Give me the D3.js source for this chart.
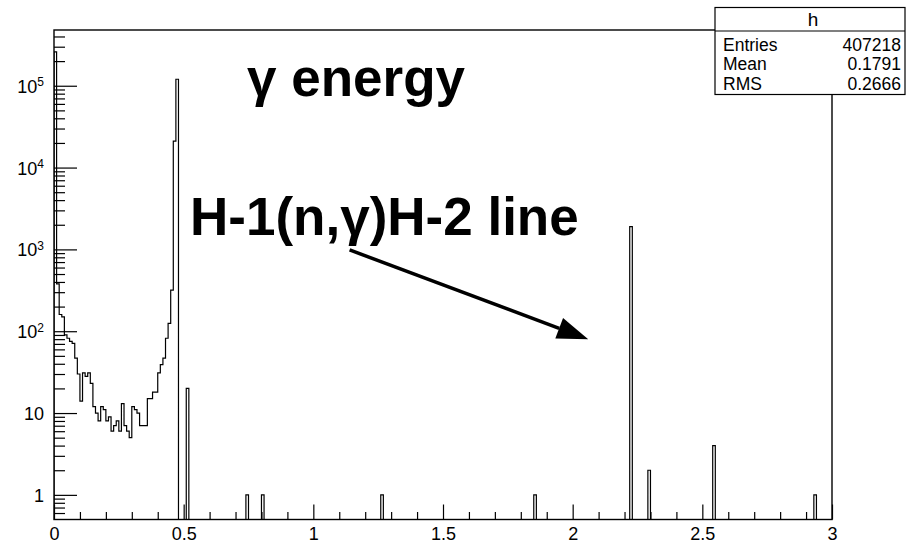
<!DOCTYPE html>
<html>
<head>
<meta charset="utf-8">
<script src="https://cdn.jsdelivr.net/npm/d3@7"></script>
<style>
  html, body { margin: 0; padding: 0; background: #fff; }
  svg { display: block; font-family: "Liberation Sans", Arial, Helvetica, sans-serif; }
</style>
</head>
<body>
<svg id="chart" width="906" height="544"></svg>
<script>
// ---------------- data ----------------
const binWidth = 0.01;
const xRange = [0, 3];
// counts of the first bins, starting at 0.00 (one value per 0.01 bin)
const lowEnergyCounts = [260000, 380, 160, 150, 90, 82, 75, 71, 47, 30,
  14, 31, 28, 31, 23, 12, 10, 8, 12, 11,
  8, 9, 6, 7, 8, 6, 13, 7, 6, 5,
  12, 11, 10, 7, 7, 7, 15, 15, 18, 18,
  31, 39, 47, 82, 125, 318, 21000, 120000];
// isolated lines (low edge of bin, counts)
const lineEnergies = [0.51, 0.74, 0.80, 1.26, 1.85, 2.22, 2.29, 2.54, 2.93];
const lineCounts   = [20, 1, 1, 1, 1, 1900, 2, 4, 1];
const xMajorTicks = [0, 0.5, 1, 1.5, 2, 2.5, 3];
const xTickLabels = ["0", "0.5", "1", "1.5", "2", "2.5", "3"];
const yMajorTicks = [1, 10, 100, 1000, 10000, 100000];
const yTickLabels = ["1", "10", "10^2", "10^3", "10^4", "10^5"];
const yDomain = [0.5, 4.8e5];
const statsNames  = ["Entries", "Mean", "RMS"];
const statsValues = ["407218", "0.1791", "0.2666"];
const titleText = "\u03b3 energy";
const lineLabel = "H-1(n,\u03b3)H-2 line";
// arrow in data coordinates [energy, counts]
const arrowFrom = [1.14, 985];
const arrowTo   = [2.06, 80];

// ---------------- layout ----------------
const frame = { left: 54, right: 832, top: 30, bottom: 519.5 };
const svg = d3.select("#chart");

const x = d3.scaleLinear().domain(xRange).range([frame.left, frame.right]);
const y = d3.scaleLog().domain(yDomain).range([frame.bottom, frame.top]);

// build bins
const nBins = Math.round((xRange[1] - xRange[0]) / binWidth);
const counts = new Array(nBins).fill(0);
lowEnergyCounts.forEach((c, i) => counts[i] = c);
lineEnergies.forEach((e, i) => counts[Math.round(e / binWidth)] = lineCounts[i]);

svg.append("defs").append("clipPath").attr("id", "clip")
  .append("rect").attr("x", frame.left).attr("y", frame.top)
  .attr("width", frame.right - frame.left).attr("height", frame.bottom - frame.top);

// histogram step path
const pts = [[x(0), frame.bottom]];
counts.forEach((c, i) => {
  const yy = c > 0 ? y(c) : frame.bottom;
  pts.push([x(i * binWidth), yy]);
  pts.push([x((i + 1) * binWidth), yy]);
});
pts.push([x(xRange[1]), frame.bottom]);

svg.append("path")
  .attr("clip-path", "url(#clip)")
  .attr("d", d3.line()(pts))
  .attr("fill", "none")
  .attr("stroke", "#000")
  .attr("stroke-width", 1.2);

// ---------------- axes ----------------
const labelFont = 18;
// x minor ticks
const xMinor = d3.range(0, 31).map(i => i / 10).filter(v => !xMajorTicks.some(m => Math.abs(m - v) < 1e-9));
svg.append("g").attr("transform", `translate(0,${frame.bottom})`)
  .call(d3.axisBottom(x).tickValues(xMinor).tickSizeInner(-7.5).tickSizeOuter(0).tickFormat(""))
  .call(g => g.select(".domain").remove())
  .call(g => g.selectAll("line").attr("stroke", "#000").attr("stroke-width", 1.2));
const xAxisG = svg.append("g").attr("transform", `translate(0,${frame.bottom})`)
  .call(d3.axisBottom(x).tickValues(xMajorTicks).tickSizeInner(-15).tickSizeOuter(0).tickPadding(8)
    .tickFormat((d, i) => xTickLabels[i]));
xAxisG.select(".domain").remove();
xAxisG.selectAll("line").attr("stroke", "#000").attr("stroke-width", 1.2);
xAxisG.selectAll("text").attr("font-size", labelFont).attr("fill", "#000")
  .attr("font-family", "'Liberation Sans', Arial, sans-serif");

// y minor ticks
const yMinor = [];
for (let d = -1; d <= 5; d++) {
  for (let k = 2; k <= 9; k++) {
    const v = k * Math.pow(10, d);
    if (v > yDomain[0] && v < yDomain[1]) yMinor.push(v);
  }
}
svg.append("g").attr("transform", `translate(${frame.left},0)`)
  .call(d3.axisLeft(y).tickValues(yMinor).tickSizeInner(-11).tickSizeOuter(0).tickFormat(""))
  .call(g => g.select(".domain").remove())
  .call(g => g.selectAll("line").attr("stroke", "#000").attr("stroke-width", 1.2));
const yAxisG = svg.append("g").attr("transform", `translate(${frame.left},0)`)
  .call(d3.axisLeft(y).tickValues(yMajorTicks).tickSizeInner(-23).tickSizeOuter(0).tickPadding(10)
    .tickFormat(""));
yAxisG.select(".domain").remove();
yAxisG.selectAll("line").attr("stroke", "#000").attr("stroke-width", 1.2);
yAxisG.selectAll(".tick").each(function (d, i) {
  const t = d3.select(this).select("text")
    .attr("font-size", labelFont).attr("fill", "#000").attr("dy", "0.36em")
    .attr("font-family", "'Liberation Sans', Arial, sans-serif");
  const lab = yTickLabels[i];
  if (lab.includes("^")) {
    const [b, e] = lab.split("^");
    t.append("tspan").text(b);
    t.append("tspan").text(e).attr("font-size", 12).attr("dy", "-0.55em");
  } else {
    t.text(lab);
  }
});

// frame
svg.append("rect")
  .attr("x", frame.left).attr("y", frame.top)
  .attr("width", frame.right - frame.left).attr("height", frame.bottom - frame.top)
  .attr("fill", "none").attr("stroke", "#000").attr("stroke-width", 1.4);

// ---------------- annotations ----------------
svg.append("text")
  .attr("x", 247).attr("y", 96)
  .attr("font-size", 53).attr("font-weight", "bold").attr("fill", "#000")
  .text(titleText);

svg.append("text")
  .attr("x", 190).attr("y", 235)
  .attr("font-size", 53).attr("font-weight", "bold").attr("fill", "#000")
  .text(lineLabel);

// arrow
const ax0 = x(arrowFrom[0]), ay0 = y(arrowFrom[1]);
const ax1 = x(arrowTo[0]), ay1 = y(arrowTo[1]);
const ang = Math.atan2(ay1 - ay0, ax1 - ax0);
const headLen = 31, headHalf = 11;
const bx = ax1 - headLen * Math.cos(ang), by = ay1 - headLen * Math.sin(ang);
svg.append("line")
  .attr("x1", ax0).attr("y1", ay0).attr("x2", bx).attr("y2", by)
  .attr("stroke", "#000").attr("stroke-width", 3.5);
svg.append("path")
  .attr("d", d3.line()([
    [ax1, ay1],
    [bx - headHalf * Math.sin(ang), by + headHalf * Math.cos(ang)],
    [bx + headHalf * Math.sin(ang), by - headHalf * Math.cos(ang)]
  ]) + "Z")
  .attr("fill", "#000");

// ---------------- stats box ----------------
const box = { x: 715, y: 7.5, w: 190, h: 87 };
const statsFont = 17.5, rowStep = 19.6;
const sb = svg.append("g");
sb.append("rect").attr("x", box.x).attr("y", box.y).attr("width", box.w).attr("height", box.h)
  .attr("fill", "#fff").attr("stroke", "#000").attr("stroke-width", 1.2);
sb.append("line").attr("x1", box.x).attr("x2", box.x + box.w).attr("y1", 31).attr("y2", 31)
  .attr("stroke", "#000").attr("stroke-width", 1.2);
sb.append("text").attr("x", box.x + box.w / 2 + 3).attr("y", 26).attr("text-anchor", "middle")
  .attr("font-size", 19).attr("fill", "#000").text("h");
statsNames.forEach((n, i) => {
  const yy = 50.5 + i * rowStep;
  sb.append("text").attr("x", box.x + 8).attr("y", yy).attr("font-size", statsFont).attr("fill", "#000")
    .attr("textLength", null).text(n);
  sb.append("text").attr("x", box.x + box.w - 4).attr("y", yy).attr("text-anchor", "end")
    .attr("font-size", statsFont).attr("fill", "#000").text(statsValues[i]);
});
</script>
</body>
</html>
